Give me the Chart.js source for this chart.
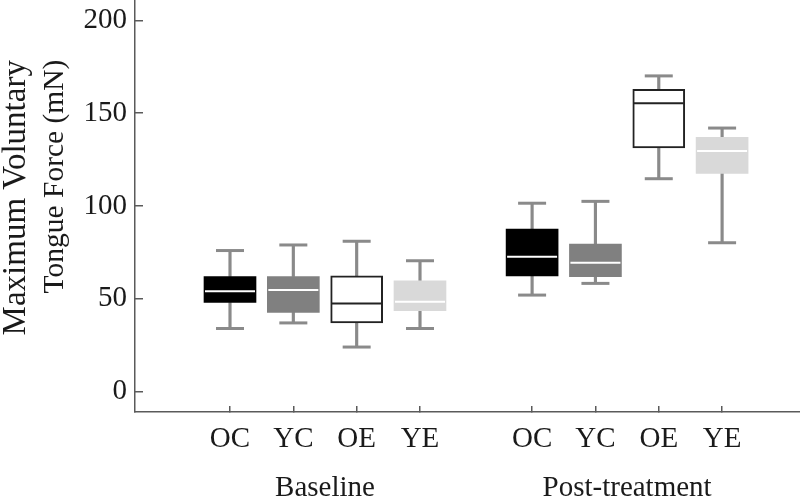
<!DOCTYPE html>
<html>
<head>
<meta charset="utf-8">
<script src="https://cdn.jsdelivr.net/npm/chart.js@4.4.0/dist/chart.umd.min.js"></script>
<style>
	html, body { margin: 0; padding: 0; background: #fff; }
	#wrap { width: 800px; height: 498px; }
</style>
</head>
<body>
<div id="wrap"><canvas id="canvas"></canvas></div>
<script>
// groups and where they sit on the x axis
var groups = ['OC', 'YC', 'OE', 'YE', 'OC', 'YC', 'OE', 'YE'];
var positions = [1, 2, 3, 4, 5.77, 6.77, 7.77, 8.77];
var phases = ['Baseline', 'Post-treatment'];
var phasePositions = [2.5, 7.27];
var yTicks = [0, 50, 100, 150, 200];

// box plot values (mN)
var mins = [34, 37, 24, 34, 52, 58.3, 114.7, 80.2];
var q1s = [48, 42.7, 37, 43.6, 62.3, 61.9, 131.3, 117.6];
var medians = [54, 54.7, 47.5, 48.4, 72.7, 69.4, 155.4, 129.6];
var q3s = [62, 62, 62.4, 59.7, 87.6, 79.5, 162.9, 137];
var maxs = [76, 79, 81, 70.5, 101.5, 102.5, 170.1, 142];

var fills = { OC: '#000000', YC: '#808080', OE: '#ffffff', YE: '#d9d9d9' };
var whiskerColor = '#8a8a8a';
var axisColor = '#5a5a5a';

Chart.defaults.font.family = '"Liberation Serif", "Times New Roman", serif';
Chart.defaults.font.size = 29;
Chart.defaults.color = '#1a1a1a';

var boxes = [], lowW = [], highW = [], caps = [], mids = [];
for (var i = 0; i < positions.length; i++) {
	boxes.push({ x: positions[i], y: [q1s[i], q3s[i]] });
	lowW.push({ x: positions[i], y: [mins[i], q1s[i]] });
	highW.push({ x: positions[i], y: [q3s[i], maxs[i]] });
	caps.push({ x: positions[i], y: mins[i] });
	caps.push({ x: positions[i], y: maxs[i] });
	mids.push({ x: positions[i], y: medians[i] });
}

// no extra room for end labels, the plot runs to the edges
function noPad(axis) {
	axis.paddingTop = 0;
	axis.paddingBottom = 0;
	axis.paddingLeft = 0;
	axis.paddingRight = 0;
}

var ctx = document.getElementById('canvas').getContext('2d');
window.myChart = new Chart(ctx, {
	type: 'bar',
	data: {
		datasets: [{
			label: 'whisker low',
			data: lowW,
			backgroundColor: whiskerColor,
			barThickness: 2.5,
			grouped: false,
			order: 4
		}, {
			label: 'whisker high',
			data: highW,
			backgroundColor: whiskerColor,
			barThickness: 2.5,
			grouped: false,
			order: 4
		}, {
			label: 'box',
			data: boxes,
			backgroundColor: groups.map(function(g) { return fills[g]; }),
			borderColor: groups.map(function(g) { return g == 'OE' ? '#222222' : fills[g]; }),
			borderWidth: groups.map(function(g) { return g == 'OE' ? 2 : 0; }),
			borderSkipped: false,
			barThickness: 52,
			grouped: false,
			order: 3
		}, {
			type: 'scatter',
			label: 'caps',
			data: caps,
			pointStyle: 'line',
			pointRadius: 14,
			pointBorderWidth: 3,
			pointBorderColor: whiskerColor,
			order: 2
		}, {
			type: 'scatter',
			label: 'median',
			data: mids,
			pointStyle: 'line',
			pointRadius: 25,
			pointBorderWidth: 2,
			pointBorderColor: groups.map(function(g) { return g == 'OE' ? '#222222' : '#ffffff'; }),
			order: 1
		}]
	},
	options: {
		responsive: true,
		maintainAspectRatio: false,
		animation: false,
		events: [],
		layout: { padding: 0, autoPadding: false },
		plugins: {
			legend: { display: false },
			tooltip: { enabled: false }
		},
		scales: {
			x: {
				type: 'linear',
				position: 'bottom',
				min: -0.5,
				max: 10,
				offset: false,
				grid: { offset: false, drawOnChartArea: false, tickLength: -6, color: axisColor, lineWidth: 1.5 },
				border: { color: axisColor, width: 1.5 },
				ticks: {
					autoSkip: false,
					maxRotation: 0,
					padding: 16,
					callback: function(value, index) { return groups[index]; }
				},
				afterBuildTicks: function(axis) {
					axis.ticks = positions.map(function(v) { return { value: v }; });
				},
				afterFit: function(axis) { axis.height = 50; noPad(axis); }
			},
			xGroup: {
				type: 'linear',
				position: 'bottom',
				min: -0.5,
				max: 10,
				offset: false,
				grid: { display: false, offset: false, drawTicks: false, tickLength: 0 },
				border: { display: false },
				ticks: {
					autoSkip: false,
					maxRotation: 0,
					padding: 9,
					callback: function(value, index) { return phases[index]; }
				},
				afterBuildTicks: function(axis) {
					axis.ticks = phasePositions.map(function(v) { return { value: v }; });
				},
				afterFit: function(axis) { axis.height = 36; noPad(axis); }
			},
			// outer line of the y title
			yLabel: {
				position: 'left',
				weight: 1,
				min: -11,
				max: 211,
				grid: { display: false, drawTicks: false },
				border: { display: false },
				ticks: { display: false },
				afterFit: function(axis) { axis.width = 36; noPad(axis); },
				title: {
					display: true,
					text: '  Maximum Voluntary',
					font: { size: 33, lineHeight: 1.0 },
					padding: { top: 0, bottom: 0 }
				}
			},
			y: {
				position: 'left',
				weight: 0,
				min: -11,
				max: 211,
				grid: { drawOnChartArea: false, tickLength: -8, color: axisColor, lineWidth: 1.5 },
				border: { color: axisColor, width: 1.5 },
				ticks: { padding: 16 },
				afterBuildTicks: function(axis) {
					axis.ticks = yTicks.map(function(v) { return { value: v }; });
				},
				afterFit: function(axis) { axis.width = 99; noPad(axis); },
				title: {
					display: true,
					// leading spaces nudge the line up like the original
					text: '        Tongue Force (mN)',
					font: { size: 29.5, lineHeight: 1.2 },
					padding: { top: 2, bottom: 0 }
				}
			}
		}
	}
});
</script>
</body>
</html>
